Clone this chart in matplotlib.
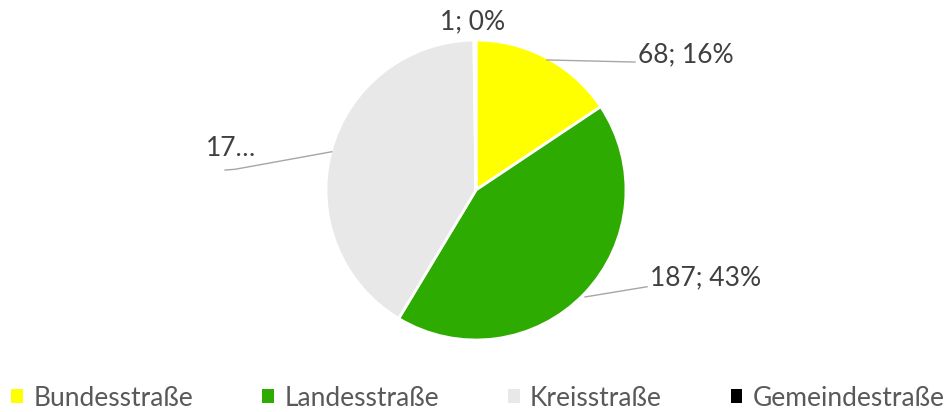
import matplotlib
matplotlib.use('Agg')
import matplotlib.pyplot as plt
from matplotlib.patches import Patch

plt.rcParams['font.family'] = ['Lato', 'DejaVu Sans']

categories = ['Bundesstraße', 'Landesstraße', 'Kreisstraße', 'Gemeindestraße']
values = [68, 187, 179, 1]
labels = ['68; 16%', '187; 43%', '17…', '1; 0%']
colors = ['#ffff00', '#2eab00', '#e8e8e8', '#000000']

text_color = '#404040'
line_color = '#a6a6a6'

fig = plt.figure(figsize=(9.51, 4.12), dpi=100)
ax = fig.add_axes([326 / 951, 72 / 412, 300 / 951, 300 / 412])

ax.pie(values, colors=colors, startangle=90, counterclock=False, radius=1,
       wedgeprops={'edgecolor': 'white', 'linewidth': 2})
ax.set_xlim(-1, 1)
ax.set_ylim(-1, 1)
ax.set_aspect('equal')
ax.axis('off')

# label positions and leader lines (in pie radius units)
label_pos = [(1.08, 0.9, 'left'), (1.16, -0.587, 'left'), (-1.467, 0.28, 'right'), (-0.02, 1.12, 'center')]
leaders = [
    [(0.473, 0.867), (1.06, 0.853)],
    [(0.727, -0.713), (1.14, -0.645)],
    [(-0.962, 0.255), (-1.607, 0.138), (-1.673, 0.133)],
    None,
]
for lab, (x, y, ha), lead in zip(labels, label_pos, leaders):
    ax.text(x, y, lab, ha=ha, va='center', fontsize=19, color=text_color, clip_on=False)
    if lead:
        xs, ys = zip(*lead)
        ax.plot(xs, ys, color=line_color, lw=1, clip_on=False)

handles = [Patch(facecolor=c, edgecolor='none') for c in colors]
fig.legend(handles, categories, loc='center right', bbox_to_anchor=(945 / 951, 14 / 412), ncol=4,
           frameon=False, fontsize=19, labelcolor='#595959',
           handlelength=0.45, handleheight=0.45, handletextpad=0.4, columnspacing=2.6,
           borderpad=0, borderaxespad=0)

fig.savefig('out.png', dpi=100)
